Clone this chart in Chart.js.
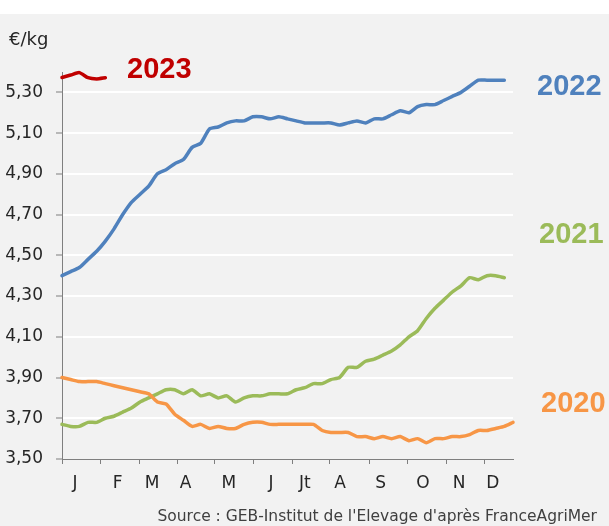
<!DOCTYPE html>
<html lang="fr">
<head>
<meta charset="utf-8">
<title>Prix au kg</title>
<script src="https://cdn.jsdelivr.net/npm/chart.js@4.4.0/dist/chart.umd.min.js"></script>
<style>
  html, body { margin: 0; padding: 0; background: #fff; }
  body { width: 609px; height: 526px; position: relative; overflow: hidden; font-family: "DejaVu Sans", sans-serif; }
  #fond { position: absolute; left: 0; top: 14px; width: 609px; height: 512px; background: #f2f2f2; }
  #graphique { position: absolute; left: 0; top: 0; }
  .annee { position: absolute; font: bold 29px "Liberation Sans", Arial, sans-serif; line-height: 1; }
  #unite { position: absolute; left: 9px; top: 30px; font-size: 18px; line-height: 1; color: #262626; }
  #source { position: absolute; right: 12px; top: 509px; font-size: 15.5px; line-height: 1; color: #404040; white-space: nowrap; }
</style>
</head>
<body>
<div id="fond"></div>
<canvas id="graphique" width="609" height="526"></canvas>
<div id="unite">€/kg</div>
<div class="annee" style="left:127px; top:54px; color:#c00000;">2023</div>
<div class="annee" style="left:537px; top:71px; color:#4f81bd;">2022</div>
<div class="annee" style="left:539px; top:219px; color:#9bbb59;">2021</div>
<div class="annee" style="left:541px; top:388px; color:#f79646;">2020</div>
<div id="source">Source : GEB-Institut de l'Elevage d'après FranceAgriMer</div>

<script>
// Semaines de l'année (2020 compte 53 semaines)
const semaines = [1, 2, 3, 4, 5, 6, 7, 8, 9, 10, 11, 12, 13, 14, 15, 16, 17, 18, 19, 20,
    21, 22, 23, 24, 25, 26, 27, 28, 29, 30, 31, 32, 33, 34, 35, 36, 37, 38, 39, 40,
    41, 42, 43, 44, 45, 46, 47, 48, 49, 50, 51, 52, 53];

// Prix hebdomadaires (€/kg)
const prix2020 = [3.90, 3.89, 3.88, 3.88, 3.88, 3.87, 3.86, 3.85, 3.84, 3.83,
    3.82, 3.78, 3.77, 3.72, 3.69, 3.66, 3.67, 3.65, 3.66, 3.65,
    3.65, 3.67, 3.68, 3.68, 3.67, 3.67, 3.67, 3.67, 3.67, 3.67,
    3.64, 3.63, 3.63, 3.63, 3.61, 3.61, 3.60, 3.61, 3.60, 3.61,
    3.59, 3.60, 3.58, 3.60, 3.60, 3.61, 3.61, 3.62, 3.64, 3.64,
    3.65, 3.66, 3.68];
const prix2021 = [3.67, 3.66, 3.66, 3.68, 3.68, 3.70, 3.71, 3.73, 3.75, 3.78,
    3.80, 3.82, 3.84, 3.84, 3.82, 3.84, 3.81, 3.82, 3.80, 3.81,
    3.78, 3.80, 3.81, 3.81, 3.82, 3.82, 3.82, 3.84, 3.85, 3.87,
    3.87, 3.89, 3.90, 3.95, 3.95, 3.98, 3.99, 4.01, 4.03, 4.06,
    4.10, 4.13, 4.19, 4.24, 4.28, 4.32, 4.35, 4.39, 4.38, 4.40,
    4.40, 4.39];
const prix2022 = [4.40, 4.42, 4.44, 4.48, 4.52, 4.57, 4.63, 4.70, 4.76, 4.80,
    4.84, 4.90, 4.92, 4.95, 4.97, 5.03, 5.05, 5.12, 5.13, 5.15,
    5.16, 5.16, 5.18, 5.18, 5.17, 5.18, 5.17, 5.16, 5.15, 5.15,
    5.15, 5.15, 5.14, 5.15, 5.16, 5.15, 5.17, 5.17, 5.19, 5.21,
    5.20, 5.23, 5.24, 5.24, 5.26, 5.28, 5.30, 5.33, 5.36, 5.36,
    5.36, 5.36];
const prix2023 = [5.373, 5.385, 5.397, 5.372, 5.366, 5.372];

// Axe des mois : début de chaque mois et position des libellés (en semaines)
const debutsMois = [1, 5.44, 9.88, 14.26, 18.64, 23.08, 27.52, 31.9, 36.4, 40.84, 45.28, 49.66];
const positionsMois = [2.5, 7.42, 11.38, 15.26, 20.25, 25.09, 29.01, 33.05, 37.75, 42.63, 46.78, 50.66];
const nomsMois = ["J", "F", "M", "A", "M", "J", "Jt", "A", "S", "O", "N", "D"];

// Graduations de l'axe des prix
const ticksPrix = [3.5, 3.7, 3.9, 4.1, 4.3, 4.5, 4.7, 4.9, 5.1, 5.3];

const gris = "#7f7f7f";
const texte = "#262626";

function serie(donnees, couleur, epaisseur) {
    return {
        data: donnees,
        borderColor: couleur,
        backgroundColor: couleur,
        borderWidth: epaisseur,
        borderCapStyle: "round",
        pointRadius: 0,
        tension: 0.2,
        fill: false,
        clip: false
    };
}

document.addEventListener("DOMContentLoaded", () => {
    const ctx = document.getElementById("graphique").getContext("2d");

    new Chart(ctx, {
        type: "line",
        data: {
            labels: semaines,
            datasets: [
                serie(prix2020, "#f79646", 3.5),
                serie(prix2021, "#9bbb59", 3.5),
                serie(prix2022, "#4f81bd", 3.5),
                serie(prix2023, "#c00000", 3.5)
            ]
        },
        options: {
            responsive: false,
            animation: false,
            devicePixelRatio: 1,
            layout: { padding: { left: 0, top: 72, right: 96, bottom: 27 } },
            plugins: {
                legend: { display: false },
                tooltip: { enabled: false }
            },
            scales: {
                x: {
                    type: "linear",
                    min: 1,
                    max: 53,
                    afterBuildTicks: scale => {
                        const valeurs = debutsMois.concat(positionsMois).sort((a, b) => a - b);
                        scale.ticks = valeurs.map(v => ({ value: v }));
                    },
                    afterFit: scale => { scale.height = 40; },
                    grid: {
                        drawOnChartArea: false,
                        drawTicks: true,
                        tickLength: 5,
                        tickWidth: 1,
                        tickColor: c => (c.tick && debutsMois.includes(c.tick.value)) ? gris : "rgba(0,0,0,0)"
                    },
                    border: { color: gris, width: 1 },
                    ticks: {
                        autoSkip: false,
                        maxRotation: 0,
                        minRotation: 0,
                        padding: 9,
                        color: texte,
                        font: { family: "DejaVu Sans", size: 17 },
                        callback: value => {
                            const i = positionsMois.indexOf(value);
                            return i >= 0 ? nomsMois[i] : "";
                        }
                    }
                },
                y: {
                    min: 3.5,
                    max: 5.4,
                    afterBuildTicks: scale => {
                        scale.ticks = ticksPrix.map(v => ({ value: v }));
                    },
                    afterFit: scale => { scale.width = 62; },
                    grid: {
                        color: c => (c.tick && c.tick.value === 3.5) ? "rgba(0,0,0,0)" : "#ffffff",
                        lineWidth: 2,
                        drawTicks: true,
                        tickLength: 6,
                        tickWidth: 1,
                        tickColor: gris
                    },
                    border: { color: gris, width: 1 },
                    ticks: {
                        padding: 13,
                        color: texte,
                        font: { family: "DejaVu Sans", size: 17 },
                        callback: value => value.toFixed(2).replace(".", ",")
                    }
                }
            }
        }
    });
});
</script>
</body>
</html>
